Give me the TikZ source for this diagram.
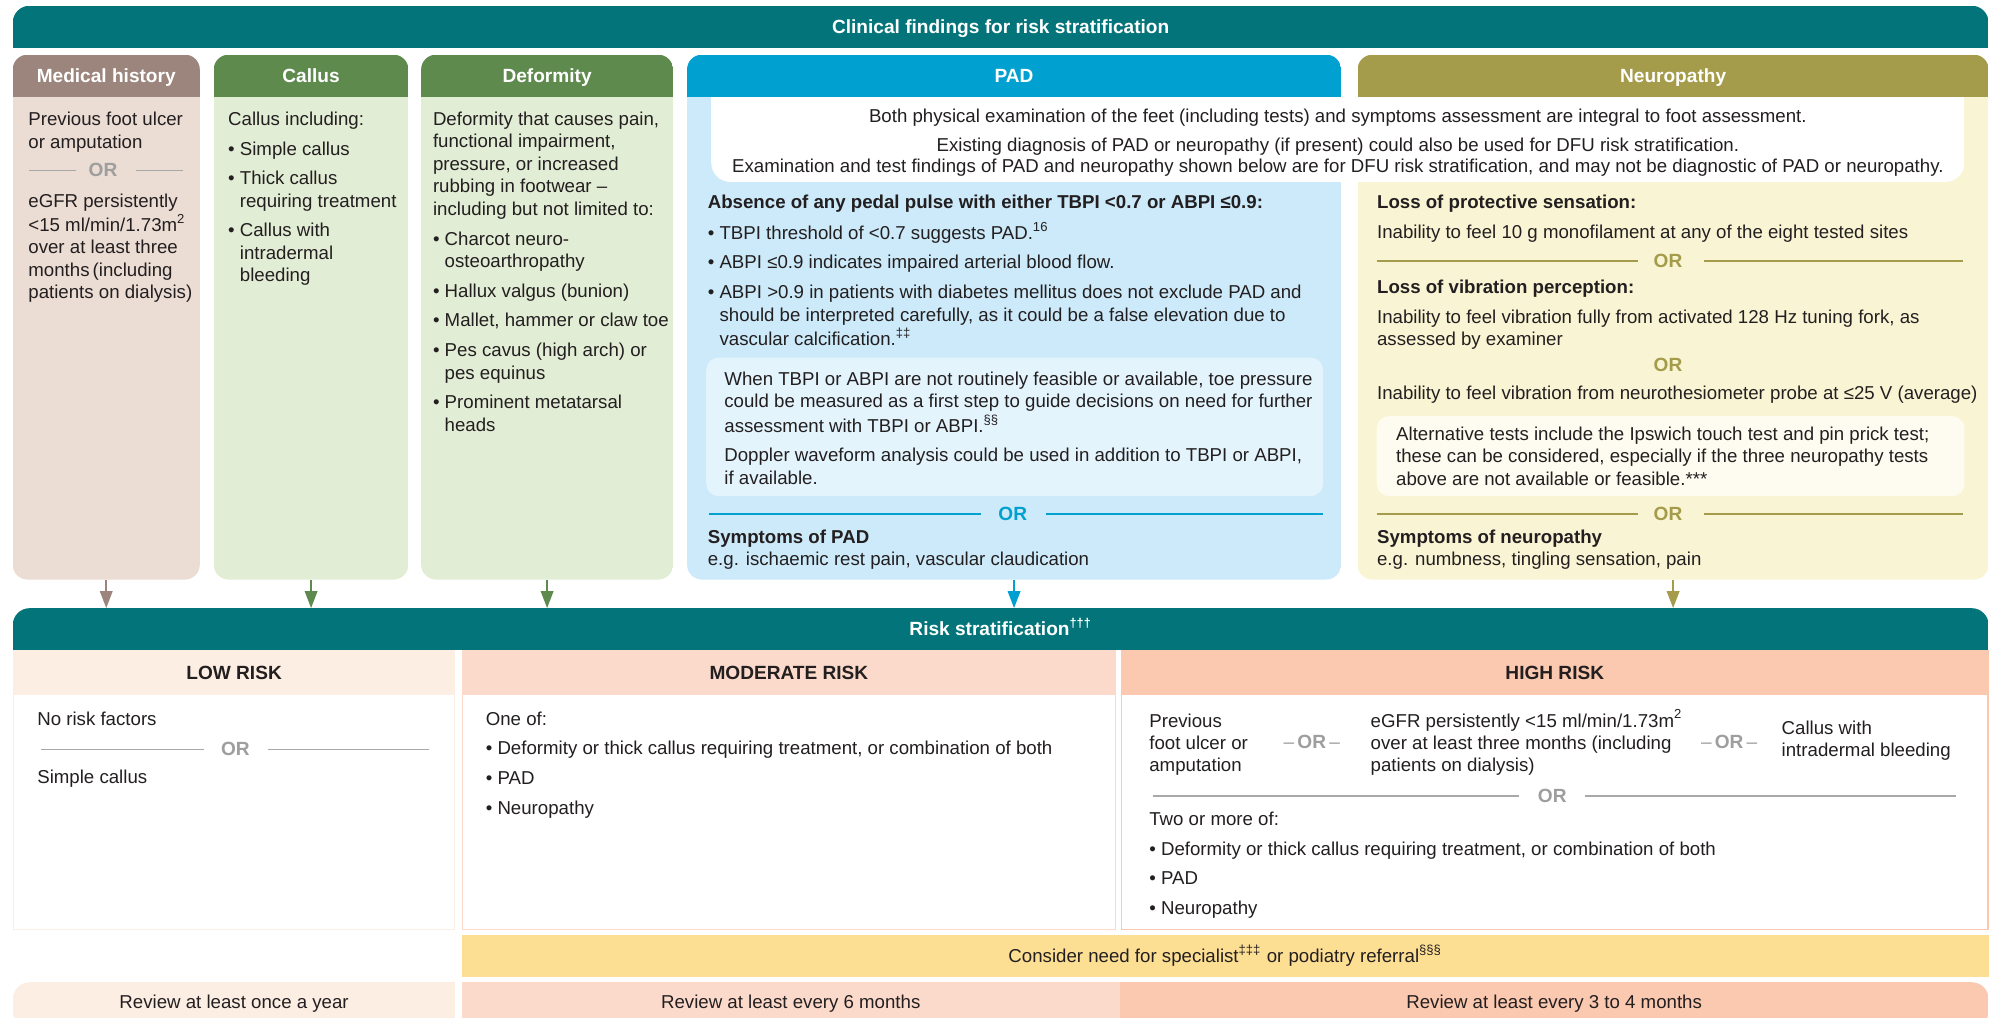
\documentclass[tikz,border=0pt]{standalone}
\usepackage{fontspec}
\setmainfont{Liberation Sans}
\usetikzlibrary{arrows.meta}
\definecolor{ink}{HTML}{231F20}
\definecolor{tealhd}{HTML}{03757A}
\definecolor{medhd}{HTML}{9B857C}
\definecolor{medbd}{HTML}{EBDCD4}
\definecolor{grnhd}{HTML}{5E8A4E}
\definecolor{grnbd}{HTML}{E2EDD5}
\definecolor{padhd}{HTML}{00A1D0}
\definecolor{padbd}{HTML}{CCEAF9}
\definecolor{padin}{HTML}{E4F4FD}
\definecolor{neuhd}{HTML}{A49B4B}
\definecolor{neubd}{HTML}{F9F5D4}
\definecolor{neuin}{HTML}{FEFCF0}
\definecolor{lowc}{HTML}{FDEEE3}
\definecolor{modc}{HTML}{FCDACB}
\definecolor{highc}{HTML}{FBC8B0}
\definecolor{yelc}{HTML}{FDDF94}
\definecolor{orgrey}{HTML}{9E9E9E}
\definecolor{lngrey}{HTML}{A8A8A8}

\newcommand\ml[1]{\begin{tabular}[t]{@{}l@{}}#1\end{tabular}}
\newcommand\bu{•\ }
\newcommand\ind{\phantom{•\ }}
\newcommand\sq[1]{\textsuperscript{#1}}
\newcommand\colbox[4]{%
  \begin{scope}
    \clip[rounded corners=7pt] (#1,43) rectangle (#2,455.5);
    \fill[#4] (#1,43) rectangle (#2,455.5);
    \fill[#3] (#1,43) rectangle (#2,76);
  \end{scope}}

\tikzset{
  txt/.style={anchor=base west, inner sep=0pt, text=ink, font=\fontsize{8.8}{10.6}\selectfont},
  ctxt/.style={anchor=base, inner sep=0pt, text=ink, font=\fontsize{8.8}{10.6}\selectfont},
  hdtxt/.style={anchor=base, inner sep=0pt, text=white, font=\bfseries\fontsize{9}{11}\selectfont},
  risktxt/.style={anchor=base, inner sep=0pt, text=ink, font=\bfseries\fontsize{9}{11}\selectfont},
  ortxt/.style={anchor=base, inner sep=0pt, font=\bfseries\fontsize{9}{11}\selectfont},
  orline/.style={line width=0.75pt},
  arr/.style={line width=1.1pt, -{Triangle[length=8pt,width=5.8pt]}},
}

\begin{document}
\begin{tikzpicture}[x=0.6pt, y=-0.6pt]
\useasboundingbox (0,0) rectangle (1568,800);

% ---------- top title ----------
\begin{scope}
  \clip[rounded corners=8pt] (10,4.5) rectangle (1563,60);
  \fill[tealhd] (10,4.5) rectangle (1563,38);
\end{scope}
\node[hdtxt] (title) at (786.5,26.5) {Clinical findings for risk stratification};

% ---------- columns ----------
\colbox{10}{157}{medhd}{medbd}
\colbox{168}{321}{grnhd}{grnbd}
\colbox{331}{529}{grnhd}{grnbd}
\colbox{540}{1054}{padhd}{padbd}
\colbox{1067}{1563}{neuhd}{neubd}

\node[hdtxt] (hmed) at (83.5,64.5) {Medical history};
\node[hdtxt] (hcal) at (244.5,64.5) {Callus};
\node[hdtxt] (hdef) at (430,64.5) {Deformity};
\node[hdtxt] (hpad) at (797,64.5) {PAD};
\node[hdtxt] (hneu) at (1315,64.5) {Neuropathy};

% white note box
\begin{scope}
  \clip[rounded corners=9pt] (559,60) rectangle (1544,143);
  \fill[white] (559,76) rectangle (1544,143);
\end{scope}
\node[ctxt] (note1) at (1051.5,96) {Both physical examination of the feet (including tests) and symptoms assessment are integral to foot assessment.};
\node[ctxt] (note2) at (1051.5,119) {Existing diagnosis of PAD or neuropathy (if present) could also be used for DFU risk stratification.};
\node[ctxt] (note3) at (1051.5,135.5) {Examination and test findings of PAD and neuropathy shown below are for DFU risk stratification, and may not be diagnostic of PAD or neuropathy.};

% Medical history
\node[txt] (med1) at (22,98.8) {\ml{Previous foot ulcer\\or amputation}};
\draw[orline, lngrey] (23,134) -- (60,134);
\draw[orline, lngrey] (107,134) -- (144,134);
\node[ortxt, text=orgrey] (medor) at (81,139) {OR};
\node[txt] (med2) at (22,163) {\ml{eGFR persistently\\<15 ml/min/1.73m\sq{2}\\over at least three\\months\,(including\\patients on dialysis)}};

% Callus
\node[txt] (cal1) at (179,98.6) {\ml{Callus including:\\[3.4pt]\bu Simple callus\\[3.4pt]\bu Thick callus\\\ind requiring treatment\\[3.4pt]\bu Callus with\\\ind intradermal\\\ind bleeding}};

% Deformity
\node[txt] (def1) at (340,98.6) {\ml{Deformity that causes pain,\\functional impairment,\\pressure, or increased\\rubbing in footwear –\\including but not limited to:\\[3.4pt]\bu Charcot neuro-\\\ind osteoarthropathy\\[3.4pt]\bu Hallux valgus (bunion)\\[3.4pt]\bu Mallet, hammer or claw toe\\[3.4pt]\bu Pes cavus (high arch) or\\\ind pes equinus\\[3.4pt]\bu Prominent metatarsal\\\ind heads}};

% PAD
\node[txt] (pad1) at (556,163.5) {\ml{\textbf{Absence of any pedal pulse with either TBPI <0.7 or ABPI ≤0.9:}\\[3.4pt]\bu TBPI threshold of <0.7 suggests PAD.\sq{16}\\[3.4pt]\bu ABPI ≤0.9 indicates impaired arterial blood flow.\\[3.4pt]\bu ABPI >0.9 in patients with diabetes mellitus does not exclude PAD and\\\ind should be interpreted carefully, as it could be a false elevation due to\\\ind vascular calcification.\sq{‡‡}}};
\fill[padin, rounded corners=6pt] (555,281) rectangle (1040,390);
\node[txt] (pad2) at (569,303) {\ml{When TBPI or ABPI are not routinely feasible or available, toe pressure\\could be measured as a first step to guide decisions on need for further\\assessment with TBPI or ABPI.\sq{§§}\\[3.4pt]Doppler waveform analysis could be used in addition to TBPI or ABPI,\\if available.}};
\draw[orline, padhd] (557,404) -- (771,404);
\draw[orline, padhd] (822,404) -- (1040,404);
\node[ortxt, text=padhd] (pador) at (796,409) {OR};
\node[txt] (pad3) at (556,427) {\ml{\textbf{Symptoms of PAD}\\e.g. ischaemic rest pain, vascular claudication}};

% Neuropathy
\node[txt] (neu1) at (1082,164) {\ml{\textbf{Loss of protective sensation:}\\[3.3pt]Inability to feel 10 g monofilament at any of the eight tested sites}};
\draw[orline, neuhd] (1082,205) -- (1287,205);
\draw[orline, neuhd] (1339,205) -- (1543,205);
\node[ortxt, text=neuhd] (neuor1) at (1311,210) {OR};
\node[txt] (neu2) at (1082,231) {\ml{\textbf{Loss of vibration perception:}\\[3.3pt]Inability to feel vibration fully from activated 128 Hz tuning fork, as\\assessed by examiner}};
\node[ortxt, text=neuhd] (neuor2) at (1311,292) {OR};
\node[txt] (neu3) at (1082,314) {Inability to feel vibration from neurothesiometer probe at ≤25 V (average)};
\fill[neuin, rounded corners=6pt] (1082,327) rectangle (1544,390);
\node[txt] (neu4) at (1097,346) {\ml{Alternative tests include the Ipswich touch test and pin prick test;\\these can be considered, especially if the three neuropathy tests\\above are not available or feasible.***}};
\draw[orline, neuhd] (1082,404) -- (1287,404);
\draw[orline, neuhd] (1339,404) -- (1543,404);
\node[ortxt, text=neuhd] (neuor3) at (1311,409) {OR};
\node[txt] (neu5) at (1082,427) {\ml{\textbf{Symptoms of neuropathy}\\e.g. numbness, tingling sensation, pain}};

% ---------- risk stratification ----------
\begin{scope}
  \clip[rounded corners=8pt] (10,478) rectangle (1563,530);
  \fill[tealhd] (10,478) rectangle (1563,511);
\end{scope}
\node[hdtxt] (risk) at (786.5,499.5) {Risk stratification\sq{†††}};
\coordinate (riskTop) at (786.5,478);

% arrows
\coordinate (medB) at (83.5,455.5);
\coordinate (calB) at (244.5,455.5);
\coordinate (defB) at (430,455.5);
\coordinate (padB) at (797,455.5);
\coordinate (neuB) at (1315,455.5);
\draw[arr, medhd] (medB) -- (medB |- riskTop);
\draw[arr, grnhd] (calB) -- (calB |- riskTop);
\draw[arr, grnhd] (defB) -- (defB |- riskTop);
\draw[arr, padhd] (padB) -- (padB |- riskTop);
\draw[arr, neuhd] (neuB) -- (neuB |- riskTop);

% risk headers and bodies
\fill[lowc] (10,511) rectangle (358,546);
\fill[modc] (363,511) rectangle (877,546);
\fill[highc] (881,511) rectangle (1563,546);
\filldraw[fill=white, draw=lowc, line width=0.6pt] (10.5,546) rectangle (357.5,730.5);
\filldraw[fill=white, draw=modc, line width=0.6pt] (363.5,546) rectangle (876.5,730.5);
\filldraw[fill=white, draw=highc, line width=0.6pt] (881.5,546) rectangle (1562.5,730.5);
\node[risktxt] (lowh) at (184,534) {LOW RISK};
\node[risktxt] (modh) at (620,534) {MODERATE RISK};
\node[risktxt] (highh) at (1222,534) {HIGH RISK};

% low
\node[txt] (low1) at (29,570) {No risk factors};
\draw[orline, lngrey] (32,589) -- (160,589);
\draw[orline, lngrey] (210.5,589) -- (337.5,589);
\node[ortxt, text=orgrey] (lowor) at (185,594) {OR};
\node[txt] (low2) at (29,616) {Simple callus};

% moderate
\node[txt] (mod1) at (381.5,570) {\ml{One of:\\[3.4pt]\bu Deformity or thick callus requiring treatment, or combination of both\\[3.4pt]\bu PAD\\[3.4pt]\bu Neuropathy}};

% high
\node[txt] (hi1) at (903,571.4) {\ml{Previous\\foot ulcer or\\amputation}};
\node[ortxt, text=orgrey] (hidash1) at (1031,588.5) {\mdseries –\,\textbf{OR}\,–};
\node[txt] (hi2) at (1077,571.4) {\ml{eGFR persistently <15 ml/min/1.73m\sq{2}\\over at least three months (including\\patients on dialysis)}};
\node[ortxt, text=orgrey] (hidash2) at (1359,588.5) {\mdseries –\,\textbf{OR}\,–};
\node[txt] (hi3) at (1400,577) {\ml{Callus with\\intradermal bleeding}};
\draw[orline, lngrey] (906,625.5) -- (1194,625.5);
\draw[orline, lngrey] (1246,625.5) -- (1537,625.5);
\node[ortxt, text=orgrey] (hior) at (1220,630.5) {OR};
\node[txt] (hi4) at (903,648.7) {\ml{Two or more of:\\[3.4pt]\bu Deformity or thick callus requiring treatment, or combination of both\\[3.4pt]\bu PAD\\[3.4pt]\bu Neuropathy}};

% referral bar
\fill[yelc] (363,735) rectangle (1563,768);
\node[ctxt] (refer) at (963,756.5) {Consider need for specialist\sq{‡‡‡} or podiatry referral\sq{§§§}};

% review bars
\begin{scope}
  \clip[rounded corners=8pt] (10,772) rectangle (1563,808);
  \fill[lowc] (10,772) rectangle (358,808);
  \fill[modc] (363,772) rectangle (880,808);
  \fill[highc] (880,772) rectangle (1563,808);
\end{scope}
\node[ctxt] (rev1) at (184,793) {Review at least once a year};
\node[ctxt] (rev2) at (621.5,793) {Review at least every 6 months};
\node[ctxt] (rev3) at (1221.5,793) {Review at least every 3 to 4 months};
\end{tikzpicture}
\end{document}
